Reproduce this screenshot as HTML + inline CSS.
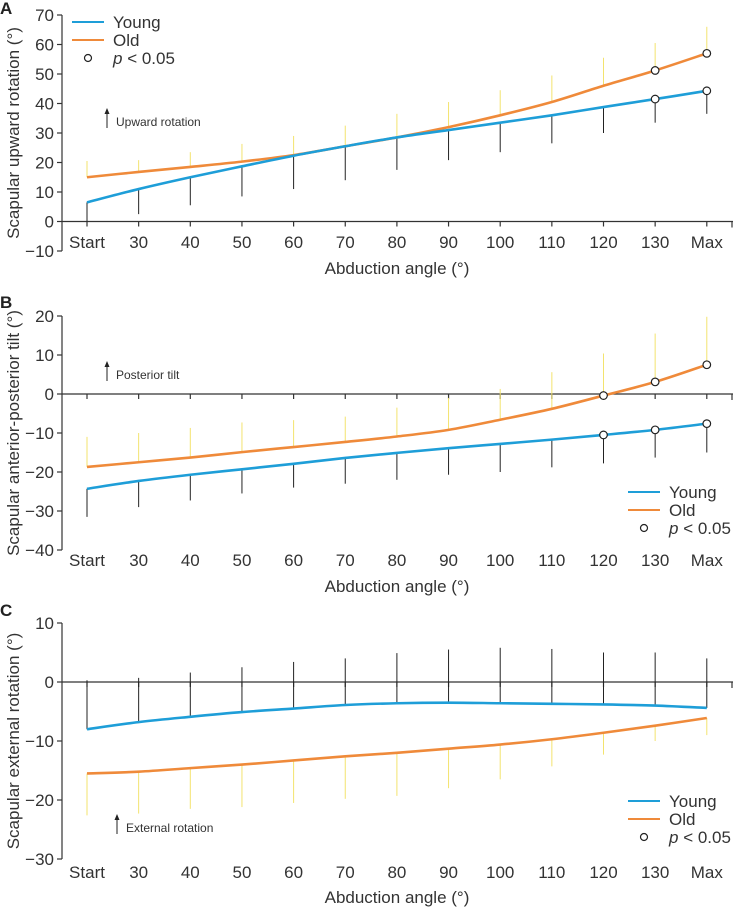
<!DOCTYPE html>
<html><head><meta charset="utf-8">
<style>
html,body{margin:0;padding:0;background:#fff;}
svg{display:block;font-family:"Liberation Sans",Arial,sans-serif;}
</style></head>
<body>
<svg id="chart" width="733" height="908" viewBox="0 0 733 908" xmlns="http://www.w3.org/2000/svg"></svg>
<script>
const categories = ["Start","30","40","50","60","70","80","90","100","110","120","130","Max"];
// Panel A
const aYoung = [6.5,11,15,18.7,22.3,25.5,28.5,31,33.5,36,38.8,41.5,44.3];
const aYoungErr = [0,2.5,5.5,8.5,11,14,17.5,20.8,23.5,26.5,30,33.5,36.5];
const aOld = [15,16.8,18.5,20.3,22.5,25.5,28.5,32,36,40.5,46,51.2,57];
const aOldErr = [20.5,20.8,23.5,26.3,29,32.5,36.5,40.5,44.5,49.5,55.5,60.5,66];
const aSig = [11,12];
const aTicks = [70,60,50,40,30,20,10,0,-10];
// Panel B
const bYoung = [-24.3,-22.3,-20.7,-19.3,-17.9,-16.4,-15.1,-13.9,-12.8,-11.7,-10.5,-9.2,-7.6];
const bYoungErr = [-31.5,-29,-27.3,-25.5,-24,-23,-22,-20.7,-20,-18.8,-17.8,-16.3,-15];
const bOld = [-18.7,-17.5,-16.3,-14.9,-13.6,-12.3,-10.9,-9.2,-6.6,-3.8,-0.4,3.1,7.5];
const bOldErr = [-11,-10,-8.7,-7.3,-6.7,-5.8,-3.5,-1,1.3,5.6,10.4,15.5,19.8];
const bSig = [10,11,12];
const bTicks = [20,10,0,-10,-20,-30,-40];
// Panel C
const cYoung = [-8,-6.8,-5.9,-5.1,-4.5,-3.9,-3.6,-3.5,-3.6,-3.7,-3.8,-4,-4.4];
const cYoungErr = [0.3,0.7,1.6,2.5,3.4,4,4.9,5.5,5.8,5.6,5,5,4];
const cOld = [-15.5,-15.2,-14.6,-14,-13.3,-12.6,-12,-11.3,-10.6,-9.7,-8.6,-7.4,-6.1];
const cOldErr = [-22.6,-22.3,-21.5,-21.2,-20.5,-19.8,-19.3,-18,-16.5,-14.3,-12.3,-10,-9];
const cSig = [];
const cTicks = [10,0,-10,-20,-30];

const NS="http://www.w3.org/2000/svg";
const svg=document.getElementById('chart');
function mk(tag,attrs,parent,text){const e=document.createElementNS(NS,tag);for(const k in attrs)e.setAttribute(k,attrs[k]);if(text!==undefined)e.textContent=text;(parent||svg).appendChild(e);return e;}
const BLUE="#1e9ed8",ORANGE="#ef8a3a",YEL="#f3e36e",AX="#333";
function xs(i){return 87+i*51.65;}
function smooth(pts){let d="M"+pts[0][0]+","+pts[0][1];for(let i=0;i<pts.length-1;i++){const p0=pts[i-1]||pts[i],p1=pts[i],p2=pts[i+1],p3=pts[i+2]||p2;const c1=[p1[0]+(p2[0]-p0[0])/6,p1[1]+(p2[1]-p0[1])/6],c2=[p2[0]-(p3[0]-p1[0])/6,p2[1]-(p3[1]-p1[1])/6];d+=" C"+c1[0]+","+c1[1]+" "+c2[0]+","+c2[1]+" "+p2[0]+","+p2[1];}return d;}

function panel(cfg){
  const g=mk('g',{});
  
  
  const top=cfg.ticks[0],bot=cfg.ticks[cfg.ticks.length-1];
  const ys=v=>cfg.y0+(top-v)*(cfg.y1-cfg.y0)/(top-bot);
  const zy=ys(0);
  const lt=mk('text',{x:0,y:cfg.letterY,'font-size':17,'font-weight':'bold',fill:'#222'},g,cfg.id);
  
  
  const ya=mk('line',{x1:62,y1:cfg.y0,x2:62,y2:cfg.y1,stroke:AX,'stroke-width':1.2},g);
  
  
  cfg.ticks.forEach(t=>{const y=ys(t);mk('line',{x1:57,y1:y,x2:62,y2:y,stroke:AX,'stroke-width':1.2},g);
    const tl=mk('text',{x:54,y:y+6,'font-size':17,'text-anchor':'end',fill:'#333'},g,t<0?'\u2212'+(-t):String(t));
    
    });
  const yt=mk('text',{x:0,y:0,'font-size':17,'text-anchor':'middle',fill:'#333',transform:`translate(19,${(cfg.y0+cfg.y1)/2}) rotate(-90)`},g,cfg.title);
  
  
  const xa=mk('line',{x1:62,y1:zy,x2:733,y2:zy,stroke:AX,'stroke-width':1.2},g);
  
  
  categories.forEach((c,i)=>{mk('line',{x1:xs(i),y1:zy,x2:xs(i),y2:zy+5,stroke:AX,'stroke-width':1.2},g);
    const tl=mk('text',{x:xs(i),y:cfg.labY,'font-size':17,'text-anchor':'middle',fill:'#333'},g,c);
    
    });
  mk('line',{x1:732,y1:zy,x2:732,y2:zy+6,stroke:AX,'stroke-width':1.2},g);
  const xt=mk('text',{x:397,y:cfg.titY,'font-size':17,'text-anchor':'middle',fill:'#333'},g,'Abduction angle (\u00b0)');
  
  
  cfg.old.forEach((v,i)=>{const e=mk('line',{x1:xs(i),y1:ys(v),x2:xs(i),y2:ys(cfg.oldErr[i]),stroke:YEL,'stroke-width':1},g);
    
    });
  cfg.young.forEach((v,i)=>{const e=mk('line',{x1:xs(i),y1:ys(v),x2:xs(i),y2:ys(cfg.youngErr[i]),stroke:'#222','stroke-width':1},g);
    
    });
  const lo=mk('path',{d:smooth(cfg.old.map((v,i)=>[xs(i),ys(v)])),fill:'none',stroke:ORANGE,'stroke-width':2.6},g);
  
  
  const ly=mk('path',{d:smooth(cfg.young.map((v,i)=>[xs(i),ys(v)])),fill:'none',stroke:BLUE,'stroke-width':2.6},g);
  
  
  cfg.sig.forEach(i=>{[cfg.young[i],cfg.old[i]].forEach(v=>{const c=mk('circle',{cx:xs(i),cy:ys(v),r:3.8,fill:'#fff',stroke:'#222','stroke-width':1.2},g);
    
    });});
  const ax=cfg.ann[0],ay=cfg.ann[1];
  mk('line',{x1:ax,y1:ay,x2:ax,y2:ay+19,stroke:'#222','stroke-width':1},g);
  mk('path',{d:`M${ax-2.5},${ay+5} L${ax},${ay-1} L${ax+2.5},${ay+5} Z`,fill:'#222'},g);
  const at=mk('text',{x:ax+9,y:ay+17,'font-size':12,fill:'#333'},g,cfg.annText);
  
  
  const lx=cfg.leg[0],lyy=cfg.leg[1];
  const lg=mk('g',{},g);
  
  
  mk('line',{x1:lx,y1:lyy,x2:lx+32,y2:lyy,stroke:BLUE,'stroke-width':2},lg);
  mk('text',{x:lx+41,y:lyy+6,'font-size':17,fill:'#333'},lg,'Young');
  mk('line',{x1:lx,y1:lyy+18,x2:lx+32,y2:lyy+18,stroke:ORANGE,'stroke-width':2},lg);
  mk('text',{x:lx+41,y:lyy+24,'font-size':17,fill:'#333'},lg,'Old');
  mk('circle',{cx:lx+16,cy:lyy+36,r:3.5,fill:'#fff',stroke:'#222','stroke-width':1.2},lg);
  const pt=mk('text',{x:lx+41,y:lyy+42,'font-size':17,fill:'#333'},lg);
  mk('tspan',{'font-style':'italic'},pt,'p');
  mk('tspan',{},pt,' < 0.05');
}
panel({id:'A',letterY:14,ticks:aTicks,y0:15,y1:251,labY:248,titY:274,title:'Scapular upward rotation (\u00b0)',young:aYoung,youngErr:aYoungErr,old:aOld,oldErr:aOldErr,sig:aSig,ann:[107,109],annText:'Upward rotation',leg:[72,22]});
panel({id:'B',letterY:308,ticks:bTicks,y0:316,y1:550,labY:566,titY:592,title:'Scapular anterior-posterior tilt (\u00b0)',young:bYoung,youngErr:bYoungErr,old:bOld,oldErr:bOldErr,sig:bSig,ann:[107,362],annText:'Posterior tilt',leg:[628,492]});
panel({id:'C',letterY:616,ticks:cTicks,y0:623,y1:859,labY:878,titY:903,title:'Scapular external rotation (\u00b0)',young:cYoung,youngErr:cYoungErr,old:cOld,oldErr:cOldErr,sig:cSig,ann:[117,815],annText:'External rotation',leg:[628,801]});
</script>
</body></html>
